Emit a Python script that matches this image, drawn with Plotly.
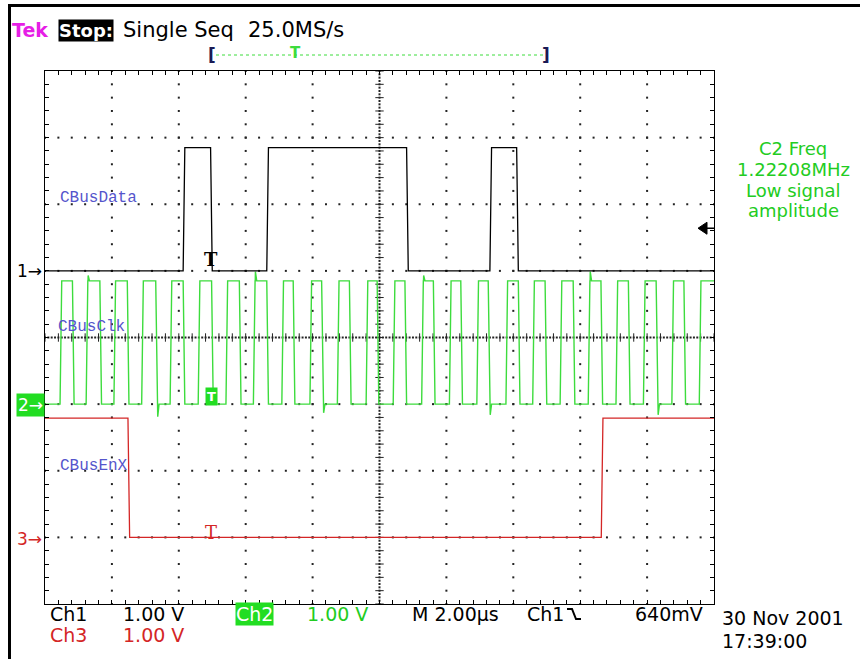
import plotly.graph_objects as go

# ---------------- data ----------------
time_per_div_us = 2.0      # M 2.00us / div  -> 10 div = 20 us
volts_per_div = 1.0        # 1.00 V / div for all channels

ch1_name = "CBusData"
ch1_edges_us = [4.13, 4.95, 6.63, 10.81, 13.30, 14.10]
ch1_start_high = False
ch1_high_v = 1.85
ch1_low_v = 0.0
ch1_offset_div = 5.0

ch2_name = "CBusClk"
ch2_rise_us = [0.45, 1.23, 2.06, 2.89, 3.74, 4.58, 5.41, 6.23, 7.08, 7.92, 8.74, 9.60,
               10.41, 11.26, 12.09, 12.91, 13.78, 14.58, 15.40, 16.24, 17.07, 17.89, 18.74, 19.56]
ch2_fall_us = [0.82, 1.64, 2.46, 3.31, 4.13, 4.98, 5.81, 6.63, 7.42, 8.27, 9.10, 9.93,
               10.76, 11.61, 12.43, 13.25, 14.15, 14.95, 15.79, 16.62, 17.44, 18.27, 19.10]
ch2_start_high = False
ch2_high_v = 1.85
ch2_low_v = 0.0
ch2_offset_div = 3.0
ch2_glitch_t = [1.29, 3.37, 6.29, 8.33, 11.32, 13.31, 16.30, 18.33]
ch2_glitch_v = [1.93, -0.19, 1.99, -0.13, 1.93, -0.16, 1.99, -0.16]

ch3_name = "CBusEnX"
ch3_edges_us = [2.48, 16.63]
ch3_start_high = True
ch3_high_v = 1.79
ch3_low_v = 0.0
ch3_offset_div = 1.0

trigger_level_v = 0.64
freq_text = ["C2 Freq", "1.22208MHz", "Low signal", "amplitude"]
header_texts = ["Single Seq", "25.0MS/s"]
footer_texts = ["Ch1", "1.00 V", "Ch2", "1.00 V", "M 2.00\u00b5s", "Ch1", "640mV",
                "Ch3", "1.00 V", "30 Nov 2001", "17:39:00"]

# ---------------- colours / geometry ----------------
C_GREEN = "#3ddc3d"
C_GREEN_TXT = "#22cc22"
C_RED = "#d42626"
C_BLUE = "#5555cc"
C_MAG = "#e61ee6"
FONT = "DejaVu Sans"

W, H = 860, 659
X0, X1, Y0, Y1 = 45, 714, 71, 604   # plot area in pixels


def P(x, y):
    """pixel -> paper coordinates"""
    return (x - X0) / (X1 - X0), (Y1 - y) / (Y1 - Y0)


def build(edges, start_high, hi, lo, off, gt=(), gv=(), rise=0.05, t_end=20.0):
    edges = sorted(edges)
    lvl = hi if start_high else lo
    pts = [(0.0, lvl)]
    for e in edges:
        new = lo if lvl == hi else hi
        pts.append((e, lvl))
        pts.append((e + rise, new))
        lvl = new
    pts.append((t_end, lvl))

    def level_at(t):
        n = sum(1 for e in edges if e + rise <= t)
        s = start_high if n % 2 == 0 else (not start_high)
        return hi if s else lo

    for t, v in zip(gt, gv):
        l = level_at(t)
        pts += [(t - 0.004, l), (t, v), (t + 0.04, l)]
    pts.sort(key=lambda p: p[0])
    return [p[0] for p in pts], [off + p[1] / volts_per_div for p in pts]


fig = go.Figure()

# ---------------- graticule dots ----------------
gx, gy = [], []
for i in range(1, 10):
    if i == 5:
        continue
    for j in range(41):
        gx.append(i * 2.0)
        gy.append(j * 0.2)
for i in range(1, 8):
    if i == 4:
        continue
    for j in range(51):
        gx.append(j * 0.4)
        gy.append(float(i))
# dense center crosshair
for j in range(161):
    gx.append(10.0)
    gy.append(j * 0.05)
for j in range(201):
    gx.append(j * 0.1)
    gy.append(4.0)
fig.add_trace(go.Scatter(x=gx, y=gy, mode="markers", hoverinfo="skip",
                         marker=dict(symbol="square", size=2, color="#222222", line=dict(width=0))))
# center ticks
tx = [10.0] * 41
ty = [j * 0.2 for j in range(41)]
fig.add_trace(go.Scatter(x=tx, y=ty, mode="markers", hoverinfo="skip",
                         marker=dict(symbol="line-ew", size=6, line=dict(width=1, color="#222222"))))
tx2 = [j * 0.4 for j in range(51)]
ty2 = [4.0] * 51
fig.add_trace(go.Scatter(x=tx2, y=ty2, mode="markers", hoverinfo="skip",
                         marker=dict(symbol="line-ns", size=6, line=dict(width=1, color="#222222"))))

# ---------------- waveforms ----------------
x3, y3 = build(ch3_edges_us, ch3_start_high, ch3_high_v, ch3_low_v, ch3_offset_div)
fig.add_trace(go.Scatter(x=x3, y=y3, mode="lines", line=dict(color=C_RED, width=1.3), name=ch3_name))

ch2_edges = sorted(ch2_rise_us + ch2_fall_us)
x2, y2 = build(ch2_edges, ch2_start_high, ch2_high_v, ch2_low_v, ch2_offset_div,
               ch2_glitch_t, ch2_glitch_v)
fig.add_trace(go.Scatter(x=x2, y=y2, mode="lines", line=dict(color=C_GREEN, width=1.4), name=ch2_name))

x1, y1 = build(ch1_edges_us, ch1_start_high, ch1_high_v, ch1_low_v, ch1_offset_div)
fig.add_trace(go.Scatter(x=x1, y=y1, mode="lines", line=dict(color="black", width=1.3), name=ch1_name))

# ---------------- annotations ----------------
ann = []


def txt(text, x, y, size=19, color="black", xanchor="left", family=FONT, bg=None, bold=False, pad=0):
    px_, py_ = P(x, y)
    d = dict(text=("<b>%s</b>" % text) if bold else text, x=px_, y=py_, xref="paper", yref="paper",
             xanchor=xanchor, yanchor="middle", showarrow=False,
             font=dict(family=family, size=size, color=color), borderpad=pad)
    if bg:
        d["bgcolor"] = bg
    ann.append(d)


# header
txt("Tek", 11, 30, size=19, color=C_MAG, bold=True)
txt("Stop:", 58, 30, size=18, color="white", bg="black", bold=True, pad=0)
txt(header_texts[0], 122, 30, size=21)
txt(header_texts[1], 247, 30, size=21)
# record bar
txt("[", 212, 55, size=17, color="#1a1a55", xanchor="center", bold=True)
txt("]", 546, 55, size=17, color="#1a1a55", xanchor="center", bold=True)
txt("T", 295, 53, size=15, color=C_GREEN, xanchor="center", bold=True)

# channel labels
txt(ch1_name, 59, 198, size=16, color=C_BLUE, family="Liberation Mono")
txt(ch2_name, 57, 327, size=16, color=C_BLUE, family="Liberation Mono")
txt(ch3_name, 59, 466, size=16, color=C_BLUE, family="Liberation Mono")

# ground markers
txt("1\u2192", 16, 271, size=17, color="black")
txt("2\u2192", 16, 405, size=17, color="white", bg="#22dd22", pad=1)
txt("3\u2192", 16, 539, size=17, color=C_RED)

# trigger T marks
txt("T", 211, 259, size=18, color="black", xanchor="center", family="DejaVu Serif", bold=True)
txt("T", 211, 532, size=18, color=C_RED, xanchor="center", family="DejaVu Serif")
txt("T", 211, 396, size=13, color="white", xanchor="center", bg="#22dd22", bold=True, pad=1)

# measurement text
for i, s in enumerate(freq_text):
    txt(s, 793, 148 + i * 21, size=18, color=C_GREEN_TXT, xanchor="center")

# footer
txt(footer_texts[0], 49, 614, size=19)
txt(footer_texts[1], 122, 614, size=19)
txt(footer_texts[2], 235, 614, size=19, color="white", bg="#22dd22")
txt(footer_texts[3], 306, 614, size=19, color=C_GREEN_TXT)
txt(footer_texts[4], 411, 614, size=19)
txt(footer_texts[5], 526, 614, size=19)
txt(footer_texts[6], 634, 614, size=19)
txt(footer_texts[7], 49, 635, size=19, color=C_RED)
txt(footer_texts[8], 122, 635, size=19, color=C_RED)
txt(footer_texts[9], 721, 618, size=19)
txt(footer_texts[10], 721, 641, size=19)

# ---------------- shapes ----------------
shapes = []


def line(xa, ya, xb, yb, color="black", width=1, dash="solid"):
    a = P(xa, ya)
    b = P(xb, yb)
    shapes.append(dict(type="line", xref="paper", yref="paper", x0=a[0], y0=a[1], x1=b[0], y1=b[1],
                       line=dict(color=color, width=width, dash=dash)))


# outer frame
line(9.5, 4, 9.5, 659, width=3)
line(8, 5.5, 860, 5.5, width=3)
# record bar dotted line
line(216, 55, 543, 55, color=C_GREEN, width=1, dash="dot")
# trigger level arrow (right side)
lvl_y = Y1 - (ch1_offset_div + trigger_level_v / volts_per_div) * (Y1 - Y0) / 8.0
a1 = P(698, lvl_y)
a2 = P(707, lvl_y - 6)
a3 = P(707, lvl_y + 6)
shapes.append(dict(type="path", xref="paper", yref="paper",
                   path="M %f,%f L %f,%f L %f,%f Z" % (a1[0], a1[1], a2[0], a2[1], a3[0], a3[1]),
                   fillcolor="black", line=dict(color="black", width=1)))
line(706, lvl_y, 714, lvl_y, width=1.5)
# falling-edge slope symbol in footer
pts = [P(567, 609), P(572, 609), P(576, 619), P(581, 619)]
shapes.append(dict(type="path", xref="paper", yref="paper",
                   path="M %f,%f L %f,%f L %f,%f L %f,%f" % (pts[0] + pts[1] + pts[2] + pts[3]),
                   line=dict(color="black", width=2)))

axis_common = dict(showgrid=False, zeroline=False, showticklabels=False, ticks="inside",
                   ticklen=4, tickcolor="black", tickwidth=1, showline=True, linecolor="black",
                   linewidth=1, mirror="allticks", fixedrange=True)

fig.update_layout(
    width=W, height=H,
    margin=dict(l=X0, r=W - X1, t=Y0, b=H - Y1),
    paper_bgcolor="white", plot_bgcolor="white",
    showlegend=False,
    xaxis=dict(range=[0, 20], tick0=0, dtick=0.4, **axis_common),
    yaxis=dict(range=[0, 8], tick0=0, dtick=0.2, **axis_common),
    annotations=ann,
    shapes=shapes,
)

fig.write_html("out.html", config={"displayModeBar": False},
               post_script="document.body.style.margin='0px';document.body.style.overflow='hidden';")
